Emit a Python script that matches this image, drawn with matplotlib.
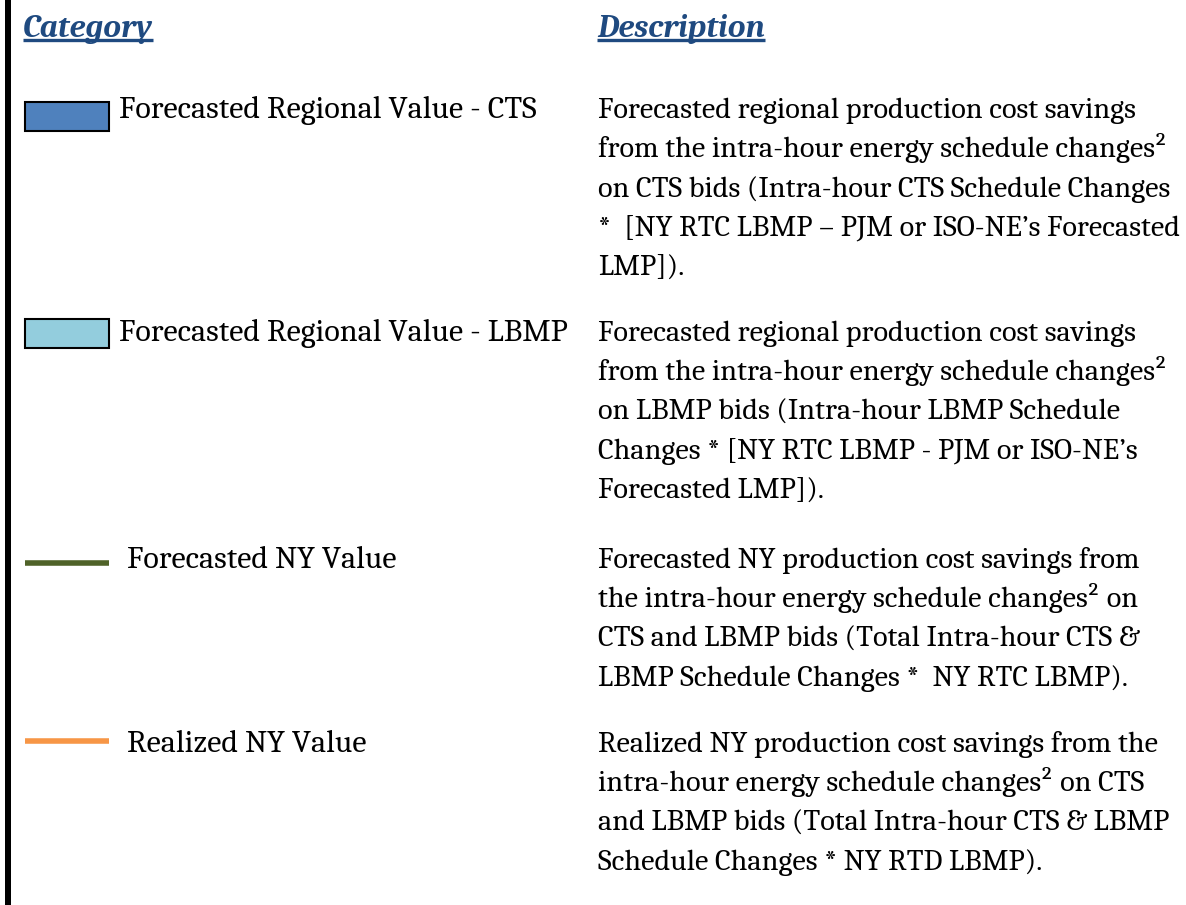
import matplotlib
matplotlib.use("Agg")
import matplotlib.pyplot as plt
from matplotlib.patches import Rectangle

# legend rows: label, swatch kind, swatch colour, description lines
labels = [
    "Forecasted Regional Value - CTS",
    "Forecasted Regional Value - LBMP",
    "Forecasted NY Value",
    "Realized NY Value",
]
kinds = ["box", "box", "line", "line"]
colors = ["#4F81BD", "#93CDDD", "#4F6228", "#F79646"]
descriptions = [
    ["Forecasted regional production cost savings",
     "from the intra-hour energy schedule changes\u00b2",
     "on CTS bids (Intra-hour CTS Schedule Changes",
     "*  [NY RTC LBMP \u2013 PJM or ISO-NE\u2019s Forecasted",
     "LMP])."],
    ["Forecasted regional production cost savings",
     "from the intra-hour energy schedule changes\u00b2",
     "on LBMP bids (Intra-hour LBMP Schedule",
     "Changes * [NY RTC LBMP - PJM or ISO-NE\u2019s",
     "Forecasted LMP])."],
    ["Forecasted NY production cost savings from",
     "the intra-hour energy schedule changes\u00b2 on",
     "CTS and LBMP bids (Total Intra-hour CTS &",
     "LBMP Schedule Changes *  NY RTC LBMP)."],
    ["Realized NY production cost savings from the",
     "intra-hour energy schedule changes\u00b2 on CTS",
     "and LBMP bids (Total Intra-hour CTS & LBMP",
     "Schedule Changes * NY RTD LBMP)."],
]
headers = ["Category", "Description"]

# layout (pixels, y downwards)
W, H = 1186, 905
row_base = [118, 341, 568, 752]
swatch_y = [102, 319, 563, 741]   # box top / line centre
line_gap = 39.3
label_x = [119, 119, 127, 127]
desc_x = 598
header_x = [23, 597]
header_base = 37
swatch_x0, swatch_x1 = 25, 109
font = ["Caladea", "Liberation Serif"]
fs = 21.8          # description text
fs_label = 23.0    # category labels
fs_head = 23.5
header_color = "#1F4A80"

fig = plt.figure(figsize=(W / 100, H / 100), dpi=100)
ax = fig.add_axes([0, 0, 1, 1])
ax.set_xlim(0, W)
ax.set_ylim(H, 0)
ax.axis("off")

# thick black rule on the left
ax.add_patch(Rectangle((5, 0), 6, H, color="black", lw=0))

# column headers, underlined
r = fig.canvas.get_renderer()
for hx, ht in zip(header_x, headers):
    t = ax.text(hx, header_base, ht, fontsize=fs_head, family=font, weight="bold",
                style="italic", color=header_color, va="baseline", ha="left")
    bb = t.get_window_extent(renderer=r)
    ax.plot([hx, hx + bb.width], [header_base + 3.5, header_base + 3.5],
            color=header_color, lw=2.4, solid_capstyle="butt")

for i, (lab, kind, col, desc) in enumerate(zip(labels, kinds, colors, descriptions)):
    yb = row_base[i]
    if kind == "box":
        ax.add_patch(Rectangle((swatch_x0, swatch_y[i]), swatch_x1 - swatch_x0, 29,
                               facecolor=col, edgecolor="black", lw=1.5))
    else:
        ax.plot([swatch_x0, swatch_x1], [swatch_y[i], swatch_y[i]], color=col,
                lw=4, solid_capstyle="butt")
    ax.text(label_x[i], yb, lab, fontsize=fs_label, family=font, va="baseline",
            ha="left", color="black")
    for j, line in enumerate(desc):
        ax.text(desc_x, yb + j * line_gap, line, fontsize=fs, family=font,
                va="baseline", ha="left", color="black")

fig.savefig("out.png", dpi=100)
